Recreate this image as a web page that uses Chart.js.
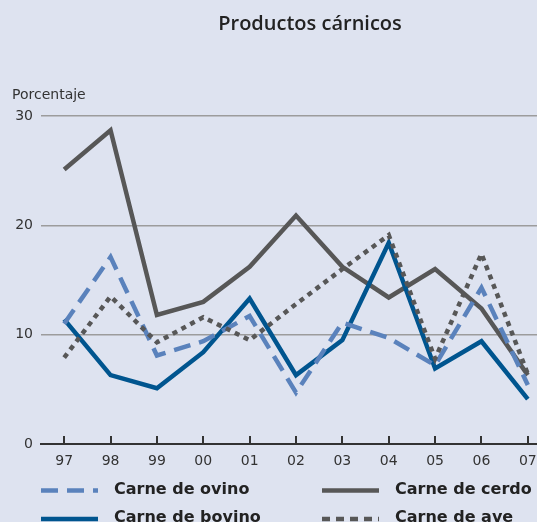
<!DOCTYPE html>
<html>
<head>
<meta charset="utf-8">
<script src="https://cdn.jsdelivr.net/npm/chart.js@4"></script>
<style>
  html, body { margin: 0; padding: 0; overflow: hidden; background: #dee3f0; }
  canvas { display: block; }
</style>
</head>
<body>
<canvas id="grafico" width="552" height="530"></canvas>
<script>
const anios = ["97", "98", "99", "00", "01", "02", "03", "04", "05", "06", "07"];
const ovino = [11.0, 17.1, 8.1, 9.4, 11.7, 4.7, 11.1, 9.7, 7.2, 14.3, 5.4];
const cerdo = [25.1, 28.7, 11.8, 13.0, 16.2, 20.9, 16.2, 13.4, 16.0, 12.4, 6.3];
const bovino = [11.4, 6.3, 5.1, 8.4, 13.3, 6.3, 9.5, 18.4, 6.9, 9.4, 4.1];
const ave = [7.9, 13.5, 9.3, 11.6, 9.5, 12.8, 16.0, 19.1, 7.8, 17.4, 6.4];
const ticksY = [0, 10, 20, 30];

const fuente = "'DejaVu Sans', sans-serif";
const texto = "#222";

// titulo, marcas del eje x, etiqueta del eje y y leyenda propia (2 columnas)
const extras = {
  id: "extras",
  beforeDatasetsDraw(chart) {
    const c = chart.ctx;
    const x = chart.scales.x;
    c.save();
    c.strokeStyle = "#333";
    c.lineWidth = 2;
    anios.forEach((a, i) => {
      const px = Math.round(x.getPixelForValue(i));
      c.beginPath();
      c.moveTo(px, chart.chartArea.bottom);
      c.lineTo(px, chart.chartArea.bottom - 8);
      c.stroke();
    });
    c.restore();
  },
  afterDraw(chart) {
    const c = chart.ctx;
    c.save();
    c.fillStyle = texto;
    c.textBaseline = "middle";
    c.textAlign = "center";
    c.font = "600 20px 'Open Sans', sans-serif";
    c.fillText("Productos cárnicos", 310, 24);
    c.textAlign = "left";
    c.fillStyle = "#333";
    c.font = "14px " + fuente;
    c.fillText("Porcentaje", 12, 95);

    const pos = [[41, 490.5], [322, 490.5], [41, 519], [322, 519]];
    chart.data.datasets.forEach((ds, i) => {
      const [lx, ly] = pos[i];
      c.strokeStyle = ds.borderColor;
      c.lineWidth = ds.borderWidth;
      c.setLineDash(ds.legendDash || []);
      c.beginPath();
      c.moveTo(lx, ly);
      c.lineTo(lx + 57, ly);
      c.stroke();
      c.setLineDash([]);
      c.fillStyle = texto;
      c.font = "bold 16px " + fuente;
      c.fillText(ds.label, lx + 73, ly - 1);
    });
    c.restore();
  }
};

new Chart(document.getElementById("grafico"), {
  type: "line",
  data: {
    labels: anios,
    datasets: [
      { label: "Carne de ovino", data: ovino, borderColor: "#5a82bc", borderWidth: 4.5,
        borderDash: [17, 9], legendDash: [17, 9], order: 1 },
      { label: "Carne de cerdo", data: cerdo, borderColor: "#575757", borderWidth: 4.5, order: 3 },
      { label: "Carne de bovino", data: bovino, borderColor: "#00558f", borderWidth: 4.5, order: 2 },
      { label: "Carne de ave", data: ave, borderColor: "#575757", borderWidth: 4.5,
        borderDash: [5, 5], legendDash: [8, 6], order: 0 }
    ]
  },
  options: {
    responsive: false,
    animation: false,
    elements: { point: { radius: 0 }, line: { tension: 0, borderCapStyle: "butt" } },
    layout: { padding: { top: 116, right: 1, left: 0, bottom: 0 } },
    plugins: { legend: { display: false }, title: { display: false }, tooltip: { enabled: false } },
    scales: {
      x: {
        offset: true,
        grid: { display: false },
        border: { display: true, color: "#333", width: 2 },
        ticks: { color: "#333", font: { family: fuente, size: 14 }, padding: 1, maxRotation: 0 },
        afterFit(s) { s.height = 86; }
      },
      y: {
        min: 0,
        max: 30,
        afterBuildTicks(s) { s.ticks = ticksY.map(v => ({ value: v })); },
        grid: {
          drawTicks: false,
          color: ctx => ctx.tick && ctx.tick.value === 0 ? "rgba(0,0,0,0)" : "#9c9c9c",
          lineWidth: 1.5
        },
        border: { display: false },
        ticks: { color: "#333", font: { family: fuente, size: 14 }, padding: 8 },
        afterFit(s) { s.width = 41; }
      }
    }
  },
  plugins: [extras]
});
</script>
</body>
</html>
